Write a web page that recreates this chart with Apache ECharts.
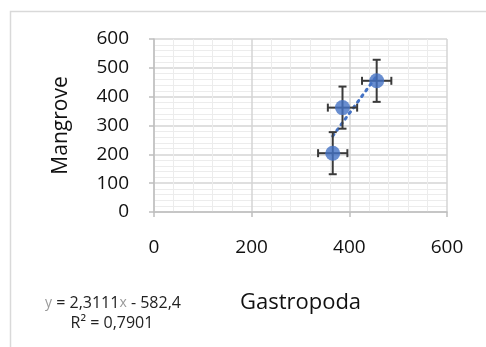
<!DOCTYPE html>
<html>
<head>
<meta charset="utf-8">
<script src="https://cdn.jsdelivr.net/npm/echarts@6/dist/echarts.min.js"></script>
<style>
html,body{margin:0;padding:0;background:#fff;}
#Chart{width:486px;height:347px;}
</style>
</head>
<body>
<div id="Chart"></div>
<script>
// data
var gastropoda=[366,386,456]
var mangrove=[204,362,455]
var errX=[30,30,30]
var errY=[73,73,73]
var xTicks=[0,200,400,600]
var yTicks=[0,100,200,300,400,500,600]
// linear fit y = a*x + b
var fitA=2.3111,fitB=-582.4
var fitText=["{g|y} = 2,3111{g|x} - 582,4","R² = 0,7901"]

var FONT="'Open Sans','Noto Sans',sans-serif"

function drawChar(){
	var myChart=echarts.init(document.getElementById('Chart'))
	var pts=[],bars=[]
	$each(gastropoda,function(i,x){
		pts.push([x,mangrove[i]])
		bars.push([x,mangrove[i],errX[i],errY[i]])
	})
	var xmin=Math.min.apply(null,gastropoda),xmax=Math.max.apply(null,gastropoda)
	var trend=[[xmin,fitA*xmin+fitB],[xmax,fitA*xmax+fitB]]

	var option={
		animation:false,
		grid:{left:154,right:39,top:39,bottom:135},
		xAxis:{
			type:'value',min:xTicks[0],max:xTicks[xTicks.length-1],interval:200,
			axisLine:{show:true,lineStyle:{color:'#bfbfbf',width:1.5}},
			axisTick:{show:true,length:5,lineStyle:{color:'#bfbfbf',width:1.5}},
			axisLabel:{color:'#111',fontFamily:FONT,fontSize:19,margin:26},
			splitLine:{show:true,lineStyle:{color:'#d4d4d4',width:1.5}},
			minorTick:{show:false,splitNumber:5},
			minorSplitLine:{show:true,lineStyle:{color:'#ececec',width:1}},
			name:'Gastropoda',nameLocation:'middle',nameGap:80,
			nameTextStyle:{color:'#111',fontFamily:FONT,fontSize:22}
		},
		yAxis:{
			type:'value',min:yTicks[0],max:yTicks[yTicks.length-1],interval:100,
			axisLine:{show:true,lineStyle:{color:'#bfbfbf',width:1.5}},
			axisTick:{show:true,length:5,lineStyle:{color:'#bfbfbf',width:1.5}},
			axisLabel:{color:'#111',fontFamily:FONT,fontSize:19,margin:25},
			splitLine:{show:true,lineStyle:{color:'#d4d4d4',width:1.5}},
			minorTick:{show:false,splitNumber:5},
			minorSplitLine:{show:true,lineStyle:{color:'#ececec',width:1}},
			name:'Mangrove',nameLocation:'middle',nameGap:82,
			nameTextStyle:{color:'#111',fontFamily:FONT,fontSize:21}
		},
		graphic:[
			{type:'rect',shape:{x:10.5,y:11.5,width:600,height:500},style:{fill:'none',stroke:'#d9d9d9',lineWidth:1.5},silent:true},
			{type:'text',x:113,y:303,style:{text:fitText[0],fill:'#222',font:'500 16px '+FONT,align:'center',verticalAlign:'middle',
				rich:{g:{fill:'#999',fontSize:14,fontFamily:FONT}}}},
			{type:'text',x:112,y:323,style:{text:fitText[1],fill:'#222',font:'500 16px '+FONT,align:'center',verticalAlign:'middle'}}
		],
		series:[
			{
				type:'line',data:trend,showSymbol:false,symbol:'none',z:3,
				lineStyle:{color:'#4472c4',width:3,type:[2,5],cap:'round'}
			},
			{
				type:'custom',z:4,data:bars,
				renderItem:function(params,api){
					var x=api.value(0),y=api.value(1),ex=api.value(2),ey=api.value(3)
					var c=api.coord([x,y])
					var l=api.coord([x-ex,y]),r=api.coord([x+ex,y])
					var t=api.coord([x,y+ey]),b=api.coord([x,y-ey])
					var cap=4
					var st={stroke:'#3a3a3a',lineWidth:2}
					return {type:'group',children:[
						{type:'line',shape:{x1:l[0],y1:c[1],x2:r[0],y2:c[1]},style:st},
						{type:'line',shape:{x1:l[0],y1:c[1]-cap,x2:l[0],y2:c[1]+cap},style:st},
						{type:'line',shape:{x1:r[0],y1:c[1]-cap,x2:r[0],y2:c[1]+cap},style:st},
						{type:'line',shape:{x1:c[0],y1:t[1],x2:c[0],y2:b[1]},style:st},
						{type:'line',shape:{x1:c[0]-cap,y1:t[1],x2:c[0]+cap,y2:t[1]},style:st},
						{type:'line',shape:{x1:c[0]-cap,y1:b[1],x2:c[0]+cap,y2:b[1]},style:st}
					]}
				}
			},
			{
				type:'scatter',data:pts,symbol:'circle',symbolSize:15,z:5,
				itemStyle:{color:'#4472c4'}
			}
		]
	}
	myChart.setOption(option)
}

function $each(arr,fn){for(var i=0;i<arr.length;i++)fn(i,arr[i])}

drawChar()
</script>
</body>
</html>
